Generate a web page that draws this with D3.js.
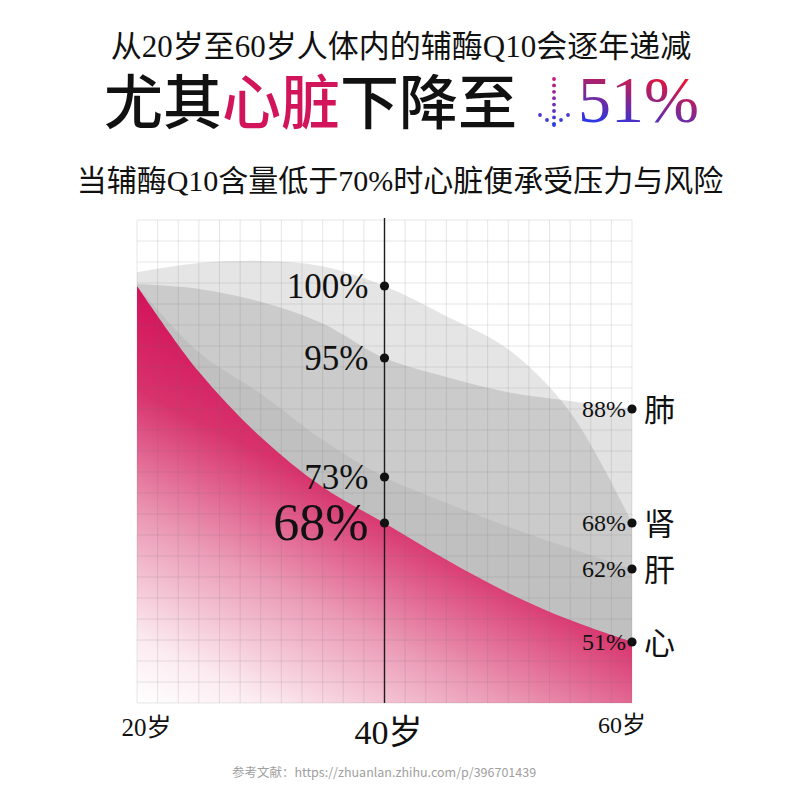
<!DOCTYPE html>
<html>
<head>
<meta charset="utf-8">
<script src="https://cdn.jsdelivr.net/npm/d3@7"></script>
<style>
  html, body { margin: 0; padding: 0; background: #fff; }
  svg { display: block; }
</style>
</head>
<body>
<div id="chart"></div>
<script>
// ages along the bottom
const ages = [20, 25, 30, 35, 40, 45, 50, 55, 60];
// Q10 level (%)
const kidney = [102.1, 103.5, 103.8, 103.0, 100, 97.9, 95.6, 87.3, 68];
const lung   = [100.3, 99.8, 98.9, 97.4, 95, 92.4, 90.3, 89.1, 88];
const liver  = [100, 95.4, 90.1, 81.2, 73, 70.2, 67.5, 64.7, 62];
const heart  = [100, 93.1, 81.8, 71.9, 68, 63.2, 58.4, 54.3, 51];
const organs = ['肾', '肺', '肝', '心'];
const ageTicks = [20, 40, 60];
// labelled levels; the infographic is not drawn to scale between them
const levels = [0, 51, 62, 68, 73, 88, 95, 100, 110];

const title1 = '从20岁至60岁人体内的辅酶Q10会逐年递减';
const headline = ['尤其', '心脏', '下降至'];
const title3 = '当辅酶Q10含量低于70%时心脏便承受压力与风险';
const source = '参考文献：https://zhuanlan.zhihu.com/p/396701439';

const serif = '"Liberation Serif", "Noto Sans CJK SC", serif';
const cjk = '"Noto Sans CJK SC", sans-serif';

let W = 800, H = 800,
    m = {left: 137, top: 220},
    pw = 495, ph = 483,
    cell = 21;

let svg = d3.select('#chart')
    .append('svg')
        .attr('width', W)
        .attr('height', H);

let defs = svg.append('defs');

let heartGrad = defs.append('linearGradient')
    .attr('id', 'heartGrad')
    .attr('x1', 0).attr('y1', 0)
    .attr('x2', -0.44).attr('y2', 0.735);
[[0, '#d3125a'], [0.25, '#d8326c'], [0.55, '#eb9ab6'], [0.85, '#fcecf2'], [1, '#ffffff']].forEach(s => {
    heartGrad.append('stop').attr('offset', s[0]).attr('stop-color', s[1]);
});

let pctGrad = defs.append('linearGradient')
    .attr('id', 'pctGrad')
    .attr('x1', 0.7).attr('y1', 0)
    .attr('x2', 0.3).attr('y2', 1);
pctGrad.append('stop').attr('offset', 0.12).attr('stop-color', '#f2142a');
pctGrad.append('stop').attr('offset', 0.88).attr('stop-color', '#2c36e2');

// titles
svg.append('text')
    .attr('x', 401).attr('y', 57)
    .attr('text-anchor', 'middle')
    .style('font-family', serif)
    .style('font-size', '31px')
    .attr('fill', '#111')
    .text(title1);

// serif first only for the line box, the CJK glyphs fall back to Noto
let head = svg.append('text')
    .attr('x', 104).attr('y', 124)
    .style('font-family', serif)
    .style('font-size', '59px')
    .style('font-weight', 500);
headline.forEach((t, i) => {
    head.append('tspan')
        .attr('fill', i === 1 ? '#d2145a' : '#111')
        .text(t);
});

// dotted down arrow
let arrowDots = d3.range(79, 124, 6.4).map(v => [554, v])
    .concat([[540, 115], [547, 120], [554, 125], [561, 120], [568, 115]]);
let arrowColor = d3.scaleLinear().domain([79, 125]).range(['#c8187a', '#2d3ee0']);
svg.append('g').selectAll('circle')
    .data(arrowDots).enter()
    .append('circle')
    .attr('cx', d => d[0])
    .attr('cy', d => d[1])
    .attr('r', 1.9)
    .attr('fill', d => arrowColor(d[1]));

svg.append('text')
    .attr('x', 578).attr('y', 122)
    .style('font-family', serif)
    .style('font-size', '66px')
    .attr('fill', 'url(#pctGrad)')
    .text(`${heart[heart.length - 1]}%`);

svg.append('text')
    .attr('x', 400).attr('y', 191)
    .attr('text-anchor', 'middle')
    .style('font-family', serif)
    .style('font-size', '30px')
    .attr('fill', '#111')
    .text(title3);

// chart
let g = svg.append('g')
    .attr('transform', `translate(${m.left}, ${m.top})`);

const x = d3.scaleLinear()
    .domain([20, 60])
    .range([0, pw]);

const y = d3.scaleLinear()
    .domain(levels)
    .range([ph, 422, 349, 303, 257, 189, 138, 66, 0]);

let area = d3.area()
    .x((d, i) => x(ages[i]))
    .y0(ph)
    .y1(d => y(d))
    .curve(d3.curveCatmullRom.alpha(0.5));

let series = [
    {organ: organs[0], values: kidney, fill: '#000', op: 0.1},
    {organ: organs[1], values: lung, fill: '#000', op: 0.115},
    {organ: organs[2], values: liver, fill: '#000', op: 0.05},
    {organ: organs[3], values: heart, fill: 'url(#heartGrad)', op: 1},
];

g.selectAll('path.layer')
    .data(series).enter()
    .append('path')
    .attr('class', 'layer')
    .attr('d', d => area(d.values))
    .attr('fill', d => d.fill)
    .attr('fill-opacity', d => d.op);

// grid on top so it shows through every layer
let grid = g.append('g')
    .attr('stroke', 'rgba(110,110,110,0.17)')
    .attr('stroke-width', 1);
grid.selectAll('line.v')
    .data(d3.range(0, 25)).enter()
    .append('line')
    .attr('class', 'v')
    .attr('x1', i => x(20 + i * 40 / 24))
    .attr('x2', i => x(20 + i * 40 / 24))
    .attr('y1', 0)
    .attr('y2', ph);
grid.selectAll('line.h')
    .data(d3.range(0, Math.floor(ph / cell) + 1)).enter()
    .append('line')
    .attr('class', 'h')
    .attr('x1', 0)
    .attr('x2', pw)
    .attr('y1', i => ph - i * cell)
    .attr('y2', i => ph - i * cell);

g.append('line')
    .attr('x1', x(40)).attr('x2', x(40))
    .attr('y1', -2).attr('y2', ph)
    .attr('stroke', '#1c1c1c')
    .attr('stroke-width', 1.4);

let mid = ages.indexOf(40), end = ages.length - 1;

// values at 40
g.selectAll('circle.mid')
    .data(series).enter()
    .append('circle')
    .attr('class', 'mid')
    .attr('cx', x(40))
    .attr('cy', d => y(d.values[mid]))
    .attr('r', 4.6)
    .attr('fill', '#111');

g.selectAll('text.mid')
    .data(series).enter()
    .append('text')
    .attr('class', 'mid')
    .attr('x', x(40) - 16)
    .attr('y', d => y(d.values[mid]) + (d.organ === '心' ? 52 : 35) * 0.33)
    .attr('text-anchor', 'end')
    .style('font-family', serif)
    .style('font-size', d => d.organ === '心' ? '52px' : '35px')
    .attr('fill', '#111')
    .text(d => `${d.values[mid]}%`);

// values at 60
g.selectAll('circle.end')
    .data(series).enter()
    .append('circle')
    .attr('class', 'end')
    .attr('cx', x(60))
    .attr('cy', d => y(d.values[end]))
    .attr('r', 4.6)
    .attr('fill', '#111');

g.selectAll('text.end')
    .data(series).enter()
    .append('text')
    .attr('class', 'end')
    .attr('x', x(60) - 6)
    .attr('y', d => y(d.values[end]) + 24 * 0.33)
    .attr('text-anchor', 'end')
    .style('font-family', serif)
    .style('font-size', '24px')
    .attr('fill', '#111')
    .text(d => `${d.values[end]}%`);

g.selectAll('text.organ')
    .data(series).enter()
    .append('text')
    .attr('class', 'organ')
    .attr('x', x(60) + 12)
    .attr('y', d => y(d.values[end]) + 31 * 0.38)
    .style('font-family', cjk)
    .style('font-size', '31px')
    .attr('fill', '#111')
    .text(d => d.organ);

// age labels: [x shift, baseline below plot, font size]
let ageStyle = {20: [9.5, 33, 25], 40: [4, 41, 34], 60: [-10, 30, 24]};
g.selectAll('text.age')
    .data(ageTicks).enter()
    .append('text')
    .attr('class', 'age')
    .attr('x', d => x(d) + ageStyle[d][0])
    .attr('y', d => ph + ageStyle[d][1])
    .attr('text-anchor', 'middle')
    .style('font-family', serif)
    .style('font-size', d => ageStyle[d][2] + 'px')
    .attr('fill', '#111')
    .text(d => `${d}岁`);

svg.append('text')
    .attr('x', 384).attr('y', 777)
    .attr('text-anchor', 'middle')
    .style('font-family', cjk)
    .style('font-size', '12.5px')
    .attr('fill', '#a0a0a0')
    .text(source);
</script>
</body>
</html>
